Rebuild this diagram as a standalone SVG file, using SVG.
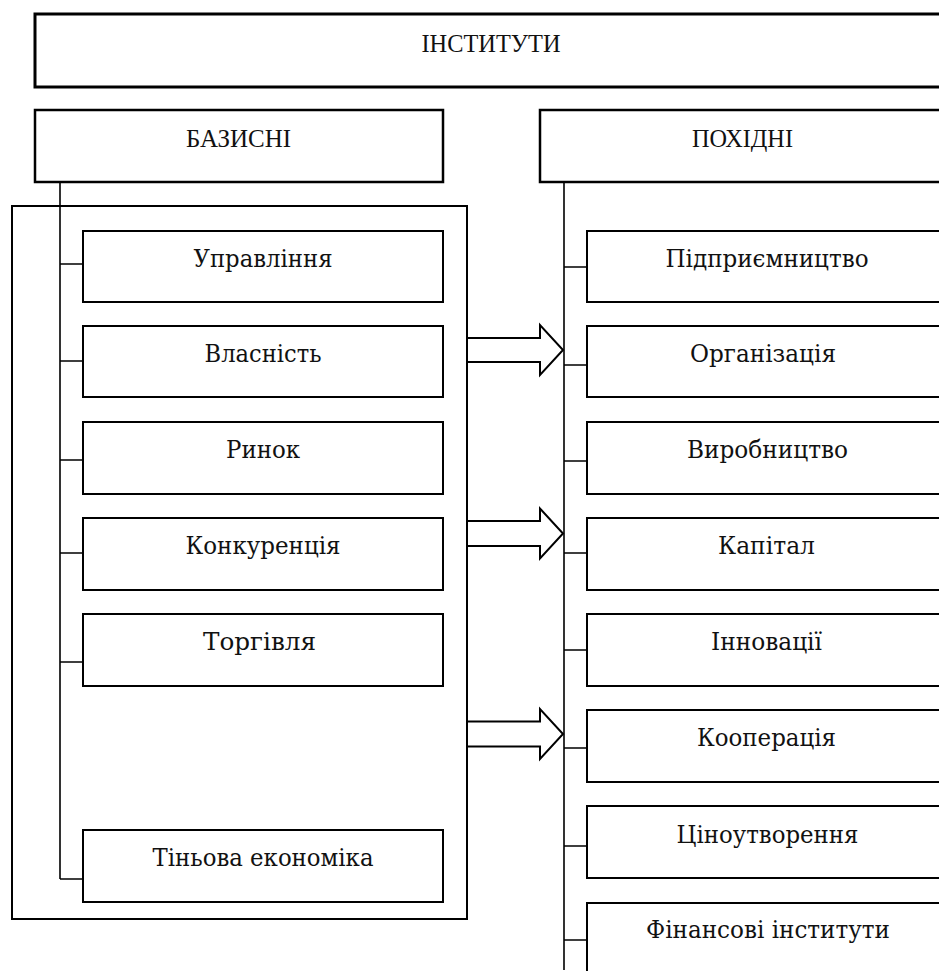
<svg xmlns="http://www.w3.org/2000/svg" width="939" height="971" viewBox="0 0 939 971">
<style>
.box{fill:#fff;stroke:#000;stroke-width:2}
.hdr{fill:#fff;stroke:#000;stroke-width:2.5}
.ln{fill:none;stroke:#000;stroke-width:1.6}
.arr{fill:#fff;stroke:#000;stroke-width:2;stroke-linejoin:miter}
.t{font-family:"DejaVu Serif","Liberation Serif",serif;font-size:24px;fill:#111;text-anchor:middle}
.h{font-family:"Liberation Serif","DejaVu Serif",serif;font-size:26px;fill:#111;text-anchor:middle}
</style>
<rect width="939" height="971" fill="#fff"/>
<g id="connectors">
<path class="ln" d="M60 182V879M60 264H83M60 361H83M60 460H83M60 553H83M60 662H83M60 879H83"/>
<path class="ln" d="M564 182V970M564 267H587M564 365H587M564 461H587M564 553H587M564 650H587M564 748H587M564 846H587M564 940H587"/>
<path class="arr" d="M467 338H540V325L563 350L540 375V362H467"/>
<path class="arr" d="M467 521H540V508.5L563 533.5L540 558.5V546H467"/>
<path class="arr" d="M467 721.5H540V709L563 734L540 759V746.5H467"/>
</g>
<g id="outer"><rect class="ln" x="12" y="206" width="455" height="713" style="stroke-width:2"/></g>
<g id="institutes"><rect class="hdr" x="35" y="14" width="915" height="73" style="stroke-width:3"/><text class="h" x="491" y="52" textLength="139" lengthAdjust="spacingAndGlyphs">ІНСТИТУТИ</text></g>
<g id="basic"><rect class="hdr" x="35" y="110" width="408" height="72"/><text class="h" x="238.5" y="147" textLength="105" lengthAdjust="spacingAndGlyphs">БАЗИСНІ</text></g>
<g id="derived"><rect class="hdr" x="540" y="110" width="410" height="72"/><text class="h" x="742.5" y="147" textLength="101" lengthAdjust="spacingAndGlyphs">ПОХІДНІ</text></g>
<g id="b1"><rect class="box" x="83" y="231" width="360" height="71"/><text class="t" x="263" y="267" textLength="139" lengthAdjust="spacingAndGlyphs">Управління</text></g>
<g id="b2"><rect class="box" x="83" y="326" width="360" height="71"/><text class="t" x="263" y="362" textLength="117" lengthAdjust="spacingAndGlyphs">Власність</text></g>
<g id="b3"><rect class="box" x="83" y="422" width="360" height="72"/><text class="t" x="263" y="458" textLength="74" lengthAdjust="spacingAndGlyphs">Ринок</text></g>
<g id="b4"><rect class="box" x="83" y="518" width="360" height="72"/><text class="t" x="263" y="554" textLength="155" lengthAdjust="spacingAndGlyphs">Конкуренція</text></g>
<g id="b5"><rect class="box" x="83" y="614" width="360" height="72"/><text class="t" x="259.5" y="650" textLength="113" lengthAdjust="spacingAndGlyphs">Торгівля</text></g>
<g id="b6"><rect class="box" x="83" y="830" width="360" height="72"/><text class="t" x="263" y="866" textLength="221" lengthAdjust="spacingAndGlyphs">Тіньова економіка</text></g>
<g id="d1"><rect class="box" x="587" y="231" width="360" height="71"/><text class="t" x="767" y="267" textLength="203" lengthAdjust="spacingAndGlyphs">Підприємництво</text></g>
<g id="d2"><rect class="box" x="587" y="326" width="360" height="71"/><text class="t" x="763" y="362" textLength="146" lengthAdjust="spacingAndGlyphs">Організація</text></g>
<g id="d3"><rect class="box" x="587" y="422" width="360" height="72"/><text class="t" x="767.5" y="458" textLength="161" lengthAdjust="spacingAndGlyphs">Виробництво</text></g>
<g id="d4"><rect class="box" x="587" y="518" width="360" height="72"/><text class="t" x="766.5" y="554" textLength="97" lengthAdjust="spacingAndGlyphs">Капітал</text></g>
<g id="d5"><rect class="box" x="587" y="614" width="360" height="72"/><text class="t" x="766.5" y="650" textLength="111" lengthAdjust="spacingAndGlyphs">Інновації</text></g>
<g id="d6"><rect class="box" x="587" y="710" width="360" height="72"/><text class="t" x="766.5" y="746" textLength="139" lengthAdjust="spacingAndGlyphs">Кооперація</text></g>
<g id="d7"><rect class="box" x="587" y="806" width="360" height="72"/><text class="t" x="767.5" y="843" textLength="182" lengthAdjust="spacingAndGlyphs">Ціноутворення</text></g>
<g id="d8"><rect class="box" x="587" y="903" width="360" height="80"/><text class="t" x="768" y="938" textLength="244" lengthAdjust="spacingAndGlyphs">Фінансові інститути</text></g>
</svg>
